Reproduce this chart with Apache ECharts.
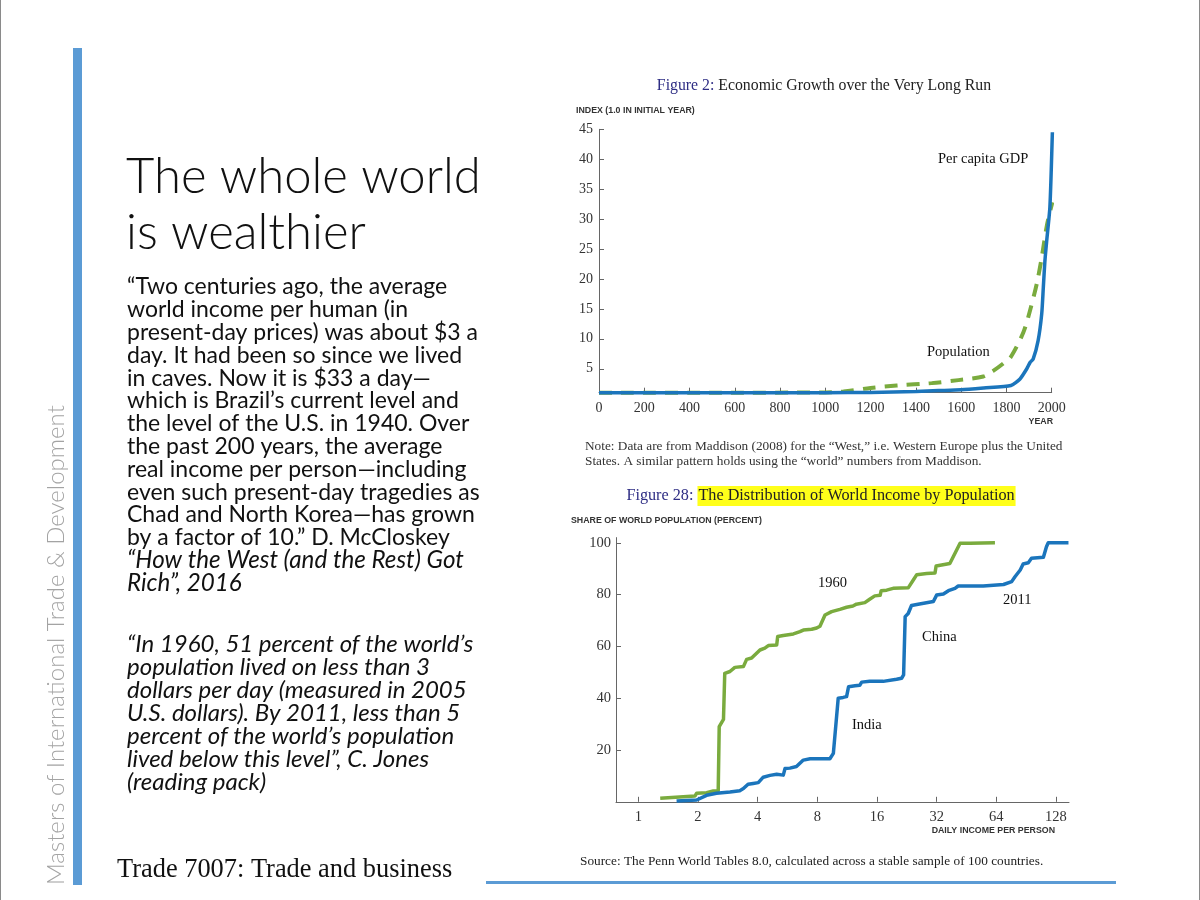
<!DOCTYPE html>
<html><head><meta charset="utf-8">
<script src="https://cdn.jsdelivr.net/npm/echarts@6/dist/echarts.min.js"></script>
<style>html,body{margin:0;padding:0;background:#fff}#c{width:1200px;height:900px}</style>
</head><body><div id="c"></div>
<script>
// ---------- Figure 2 data (index, 1.0 in initial year) ----------
const gdpYears  = [0, 200, 400, 600, 800, 1000, 1200, 1400, 1500, 1600, 1700, 1820, 1860, 1890, 1905, 1918, 1940, 1956, 1963, 1970, 1978, 1992, 2003];
const gdpIndex  = [1, 1, 1, 1, 1, 1, 1.05, 1.2, 1.35, 1.5, 1.8, 2.2, 3.3, 5.0, 6.1, 6.6, 9.7, 14.2, 18.6, 23, 26.4, 32, 44.5];
const popYears  = [0, 500, 1000, 1080, 1200, 1315, 1470, 1588, 1698, 1740, 1790, 1820, 1875, 1904, 1934, 1956, 1979, 2003];
const popIndex  = [1, 1, 1.05, 1.2, 1.8, 2.2, 2.6, 3.1, 3.7, 4.6, 6.0, 7.0, 11.1, 14.7, 19.2, 23.6, 29, 32.8];
const yearTicks  = [0, 200, 400, 600, 800, 1000, 1200, 1400, 1600, 1800, 2000];
const indexTicks = [5, 10, 15, 20, 25, 30, 35, 40, 45];

// ---------- Figure 28 data (daily income, share of world population %) ----------
const income1960 = [1.29, 1.93, 1.97, 2.21, 2.39, 2.53, 2.56, 2.69, 2.73, 2.9, 3.07, 3.39, 3.52, 3.73, 4.11, 4.35, 4.53, 4.99, 5.05, 5.39, 6.06, 6.54, 6.8, 7.49, 7.94, 8.25, 8.75, 9.45, 10.4, 11.24, 12.1, 12.6, 13.9, 14.7, 15.6, 16.6, 16.8, 17.9, 19.3, 23.0, 24.4, 25.4, 28.5, 31.4, 31.8, 33.9, 37.3, 38.1, 42, 47.2, 63];
const share1960  = [1.35, 2.2, 3.3, 3.5, 4.2, 4.2, 29, 31.8, 49.6, 50.3, 51.9, 52.2, 55, 55.5, 58.6, 59.3, 60.3, 60.5, 63.8, 64.2, 64.8, 65.7, 66.3, 66.6, 67.1, 67.8, 72.1, 73.4, 74.3, 75.1, 75.6, 76.3, 76.9, 78.2, 79.5, 79.7, 81.5, 81.7, 82.4, 82.6, 85.6, 87.7, 88.1, 88.3, 91, 91.4, 92, 92.7, 99.8, 99.8, 100];
const income2011 = [1.56, 1.97, 2.21, 2.48, 2.9, 3.25, 3.39, 3.58, 3.8, 4.03, 4.27, 4.62, 4.99, 5.39, 5.5, 5.82, 6.28, 6.8, 7.36, 9.26, 9.64, 10.2, 10.8, 11.24, 11.5, 12.4, 13.1, 13.4, 14.7, 17.2, 20.1, 21.3, 21.8, 22.2, 23, 23.9, 25.4, 30.8, 32, 34.6, 36.7, 39.6, 41.1, 55, 69.6, 76.5, 79.5, 84.5, 87.4, 92.8, 96.3, 110.6, 114.6, 117, 148];
const share2011  = [0.3, 0.7, 2.5, 3.3, 3.8, 4.3, 5.1, 6.8, 7.1, 7.4, 9.5, 10.2, 10.6, 10.3, 12.9, 13.0, 13.6, 16.1, 16.6, 16.6, 18.7, 40, 40.3, 40.6, 44.4, 44.8, 45, 46.2, 46.5, 46.5, 47.3, 47.7, 49, 71.5, 72.7, 75.8, 76.2, 77.3, 79.8, 80.2, 81.5, 82.4, 83.3, 83.3, 83.9, 85, 86.9, 89.5, 91.8, 92.3, 94, 94.4, 98.5, 100, 100];
const incomeTicks = [1, 2, 4, 8, 16, 32, 64, 128];
const shareTicks  = [20, 40, 60, 80, 100];

// ---------- slide text ----------
const titleLines = ['The whole world', 'is wealthier'];
const para1 = [
  ['\u201CTwo centuries ago, the average', 'normal'],
  ['world income per human (in', 'normal'],
  ['present-day prices) was about $3 a', 'normal'],
  ['day. It had been so since we lived', 'normal'],
  ['in caves. Now it is $33 a day\u2014', 'normal'],
  ['which is Brazil\u2019s current level and', 'normal'],
  ['the level of the U.S. in 1940. Over', 'normal'],
  ['the past 200 years, the average', 'normal'],
  ['real income per person\u2014including', 'normal'],
  ['even such present-day tragedies as', 'normal'],
  ['Chad and North Korea\u2014has grown', 'normal'],
  ['by a factor of 10.\u201D D. McCloskey', 'normal'],
  ['\u201CHow the West (and the Rest) Got', 'italic'],
  ['Rich\u201D, 2016', 'italic']
];
const para2 = [
  '\u201CIn 1960, 51 percent of the world\u2019s',
  'population lived on less than 3',
  'dollars per day (measured in 2005',
  'U.S. dollars). By 2011, less than 5',
  'percent of the world\u2019s population',
  'lived below this level\u201D, C. Jones',
  '(reading pack)'
];

const zip = (a, b) => a.map((v, i) => [v, b[i]]);
const SERIF = '"Liberation Serif", "Times New Roman", serif';
const SANS = '"Liberation Sans", Arial, sans-serif';
const BODY = 'Lato, "Open Sans", sans-serif';
const BLUE = '#1b75bc';
const GREEN = '#7aab3e';
const AX = '#666';

const graphics = [];
// slide frame
graphics.push({type: 'rect', shape: {x: 0, y: 0, width: 1, height: 900}, style: {fill: '#8a8a8a'}});
graphics.push({type: 'rect', shape: {x: 1199, y: 0, width: 1, height: 900}, style: {fill: '#8a8a8a'}});
// left accent bar
graphics.push({type: 'rect', shape: {x: 73, y: 48, width: 9, height: 837}, style: {fill: '#5b9bd5'}});
// vertical text
graphics.push({type: 'text', x: 56, y: 885, rotation: Math.PI / 2,
  style: {text: 'Masters of International Trade & Development', x: 0, y: 0, align: 'left', verticalAlign: 'middle',
    fontFamily: BODY, fontWeight: 300, fontSize: 24, fill: '#a3a3a3'}});
// title
titleLines.forEach((t, i) => graphics.push({type: 'text', x: 126, y: 177 + i * 56.6,
  style: {text: t, align: 'left', verticalAlign: 'middle', fontFamily: BODY, fontWeight: 300, fontSize: 49, fill: '#111'}}));
// paragraphs
para1.forEach((l, i) => graphics.push({type: 'text', x: 127, y: 287 + i * 22.8,
  style: {text: l[0], align: 'left', verticalAlign: 'middle', fontFamily: BODY, fontStyle: l[1], fontSize: l[1] === 'italic' ? 24.2 : 23, fill: '#111'}}));
para2.forEach((t, i) => graphics.push({type: 'text', x: 127, y: 644 + i * 23,
  style: {text: t, align: 'left', verticalAlign: 'middle', fontFamily: BODY, fontStyle: 'italic', fontSize: 24, fill: '#111'}}));
// footer
graphics.push({type: 'text', x: 117, y: 870, style: {text: 'Trade 7007: Trade and business', align: 'left', verticalAlign: 'middle',
  fontFamily: SERIF, fontSize: 26.4, fill: '#111'}});
graphics.push({type: 'rect', shape: {x: 486, y: 881, width: 630, height: 3}, style: {fill: '#5b9bd5'}});

// Figure 2 texts
graphics.push({type: 'text', x: 824, y: 86, style: {text: '{a|Figure 2:} Economic Growth over the Very Long Run', align: 'center', verticalAlign: 'middle',
  fontFamily: SERIF, fontSize: 15.8, fill: '#222', rich: {a: {fill: '#2e2d84', fontFamily: SERIF, fontSize: 15.8}}}});
graphics.push({type: 'text', x: 576, y: 111, style: {text: 'INDEX (1.0 IN INITIAL YEAR)', align: 'left', verticalAlign: 'middle',
  fontFamily: SANS, fontWeight: 'bold', fontSize: 8.8, fill: '#333'}});
graphics.push({type: 'text', x: 1053, y: 422, style: {text: 'YEAR', align: 'right', verticalAlign: 'middle',
  fontFamily: SANS, fontWeight: 'bold', fontSize: 8.8, fill: '#333'}});
graphics.push({type: 'text', x: 938, y: 159, style: {text: 'Per capita GDP', align: 'left', verticalAlign: 'middle', fontFamily: SERIF, fontSize: 14.5, fill: '#111'}});
graphics.push({type: 'text', x: 927, y: 352, style: {text: 'Population', align: 'left', verticalAlign: 'middle', fontFamily: SERIF, fontSize: 14.5, fill: '#111'}});
graphics.push({type: 'text', x: 585, y: 447, style: {text: 'Note: Data are from Maddison (2008) for the \u201CWest,\u201D i.e. Western Europe plus the United', align: 'left', verticalAlign: 'middle', fontFamily: SERIF, fontSize: 13.3, fill: '#333'}});
graphics.push({type: 'text', x: 585, y: 462, style: {text: 'States. A similar pattern holds using the \u201Cworld\u201D numbers from Maddison.', align: 'left', verticalAlign: 'middle', fontFamily: SERIF, fontSize: 13.3, fill: '#333'}});

// Figure 28 texts
graphics.push({type: 'text', x: 821, y: 496, style: {text: '{a|Figure 28:} {b|The Distribution of World Income by Population}', align: 'center', verticalAlign: 'middle',
  fontFamily: SERIF, fontSize: 16.2, fill: '#222',
  rich: {a: {fill: '#2e2d84', fontFamily: SERIF, fontSize: 16.2}, b: {fill: '#222', fontFamily: SERIF, fontSize: 16.2, backgroundColor: '#ffff1a', padding: [2, 1, 2, 1]}}}});
graphics.push({type: 'text', x: 571, y: 521, style: {text: 'SHARE OF WORLD POPULATION (PERCENT)', align: 'left', verticalAlign: 'middle',
  fontFamily: SANS, fontWeight: 'bold', fontSize: 8.8, fill: '#333'}});
graphics.push({type: 'text', x: 1055, y: 831, style: {text: 'DAILY INCOME PER PERSON', align: 'right', verticalAlign: 'middle',
  fontFamily: SANS, fontWeight: 'bold', fontSize: 8.8, fill: '#333'}});
graphics.push({type: 'text', x: 818, y: 583, style: {text: '1960', align: 'left', verticalAlign: 'middle', fontFamily: SERIF, fontSize: 14.5, fill: '#111'}});
graphics.push({type: 'text', x: 1003, y: 600, style: {text: '2011', align: 'left', verticalAlign: 'middle', fontFamily: SERIF, fontSize: 14.5, fill: '#111'}});
graphics.push({type: 'text', x: 922, y: 637, style: {text: 'China', align: 'left', verticalAlign: 'middle', fontFamily: SERIF, fontSize: 14.5, fill: '#111'}});
graphics.push({type: 'text', x: 852, y: 725, style: {text: 'India', align: 'left', verticalAlign: 'middle', fontFamily: SERIF, fontSize: 14.5, fill: '#111'}});
graphics.push({type: 'text', x: 580, y: 862, style: {text: 'Source: The Penn World Tables 8.0, calculated across a stable sample of 100 countries.', align: 'left', verticalAlign: 'middle', fontFamily: SERIF, fontSize: 13.3, fill: '#222'}});

const axisLabelStyle = {color: '#333', fontFamily: SERIF, fontSize: 14};

const chart = echarts.init(document.getElementById('c'), null, {renderer: 'canvas'});
chart.setOption({
  animation: false,
  backgroundColor: '#fff',
  grid: [
    {left: 599, right: 148.3, top: 129.3, bottom: 507.3, containLabel: false},
    {left: 616, right: 131, top: 537.6, bottom: 98.2, containLabel: false}
  ],
  xAxis: [
    {type: 'value', gridIndex: 0, min: 0, max: 2000, interval: 200,
      axisLine: {lineStyle: {color: AX}}, axisTick: {inside: true, length: 5, lineStyle: {color: AX}, customValues: yearTicks},
      axisLabel: {margin: 9, ...axisLabelStyle, customValues: yearTicks, formatter: v => String(v)}, splitLine: {show: false}},
    {type: 'log', logBase: 2, gridIndex: 1, min: 0.7718, max: 148.9,
      axisLine: {lineStyle: {color: AX}}, axisTick: {inside: true, length: 5, lineStyle: {color: AX}, customValues: incomeTicks},
      axisLabel: {margin: 8, ...axisLabelStyle, fontSize: 14.5, customValues: incomeTicks, formatter: v => String(Math.round(v))}, splitLine: {show: false}}
  ],
  yAxis: [
    {type: 'value', gridIndex: 0, min: 1, max: 45,
      axisLine: {show: true, lineStyle: {color: AX}}, axisTick: {show: true, inside: true, length: 5, lineStyle: {color: AX}, customValues: indexTicks},
      axisLabel: {margin: 6, ...axisLabelStyle, customValues: indexTicks}, splitLine: {show: false}},
    {type: 'value', gridIndex: 1, min: 0, max: 102,
      axisLine: {show: true, lineStyle: {color: AX}}, axisTick: {show: true, inside: true, length: 5, lineStyle: {color: AX}, customValues: shareTicks},
      axisLabel: {margin: 5, ...axisLabelStyle, fontSize: 14.5, customValues: shareTicks}, splitLine: {show: false}}
  ],
  series: [
    {name: 'Population', type: 'line', xAxisIndex: 0, yAxisIndex: 0, data: zip(popYears, popIndex), smooth: 0.3, showSymbol: false, clip: false,
      lineStyle: {color: GREEN, width: 4, type: [13, 9]}},
    {name: 'Per capita GDP', type: 'line', xAxisIndex: 0, yAxisIndex: 0, data: zip(gdpYears, gdpIndex), smooth: 0.2, showSymbol: false, clip: false,
      lineStyle: {color: BLUE, width: 3.5}},
    {name: '1960', type: 'line', xAxisIndex: 1, yAxisIndex: 1, data: zip(income1960, share1960), showSymbol: false, clip: false,
      lineStyle: {color: GREEN, width: 3.5, join: 'round'}},
    {name: '2011', type: 'line', xAxisIndex: 1, yAxisIndex: 1, data: zip(income2011, share2011), showSymbol: false, clip: false,
      lineStyle: {color: BLUE, width: 3.5, join: 'round'}}
  ],
  graphic: graphics
});
</script>
</body></html>
